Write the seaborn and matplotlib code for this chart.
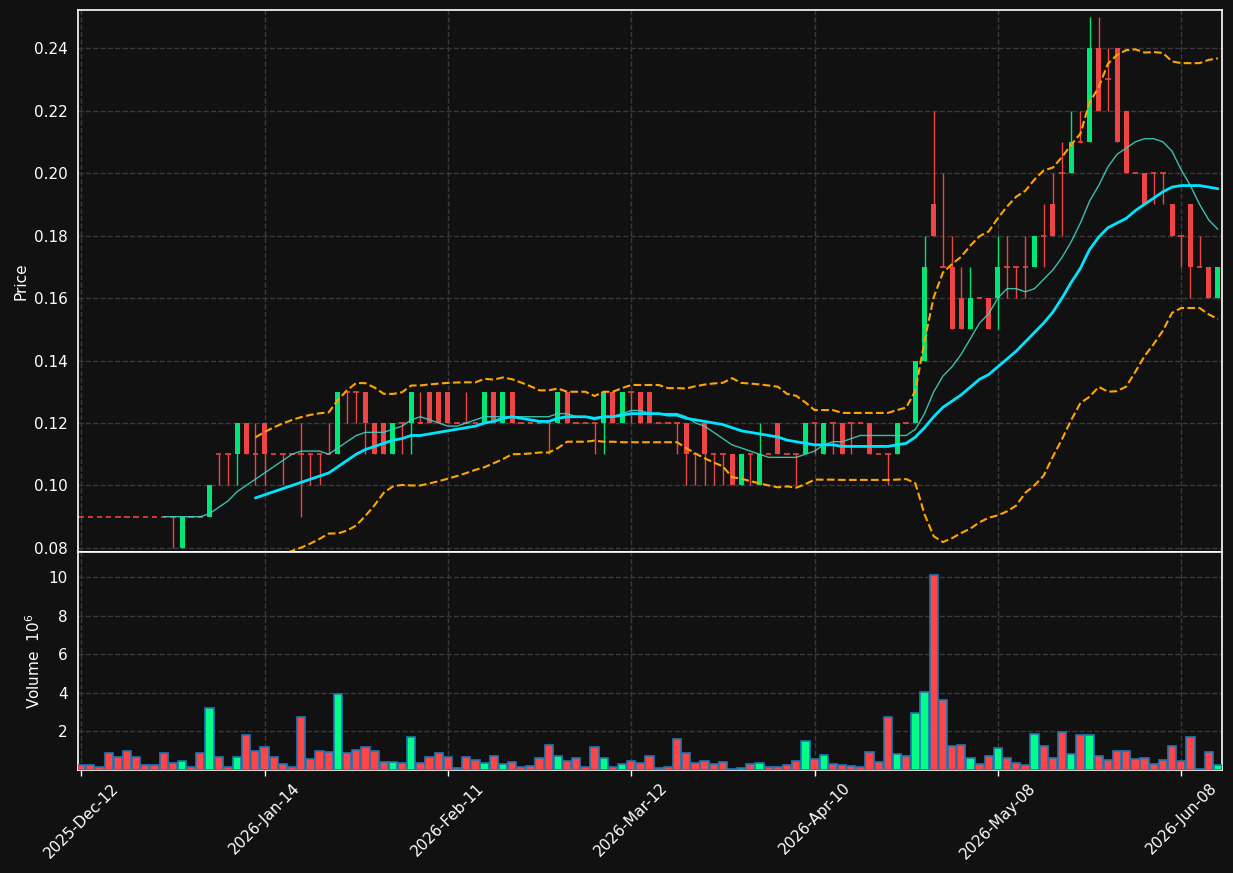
import numpy as np
import pandas as pd
import matplotlib
matplotlib.use("Agg")
import matplotlib.pyplot as plt
import seaborn as sns

# ---------------- data ----------------
opens = [0.09, 0.09, 0.09, 0.09, 0.09, 0.09, 0.09, 0.09, 0.09, 0.09,
         0.09, 0.08, 0.09, 0.09, 0.09, 0.11, 0.11, 0.11, 0.12, 0.11,
         0.12, 0.11, 0.11, 0.11, 0.11, 0.11, 0.11, 0.11, 0.11, 0.13,
         0.13, 0.13, 0.12, 0.12, 0.11, 0.12, 0.12, 0.12, 0.13, 0.13,
         0.13, 0.12, 0.12, 0.12, 0.12, 0.13, 0.12, 0.13, 0.12, 0.12,
         0.12, 0.12, 0.12, 0.13, 0.12, 0.12, 0.12, 0.12, 0.13, 0.12,
         0.13, 0.13, 0.13, 0.12, 0.12, 0.12, 0.12, 0.11, 0.12, 0.11,
         0.11, 0.11, 0.10, 0.11, 0.10, 0.11, 0.12, 0.11, 0.11, 0.11,
         0.12, 0.11, 0.12, 0.12, 0.12, 0.12, 0.12, 0.11, 0.11, 0.11,
         0.12, 0.12, 0.14, 0.19, 0.17, 0.17, 0.16, 0.15, 0.16, 0.16,
         0.16, 0.17, 0.17, 0.17, 0.17, 0.18, 0.19, 0.20, 0.20, 0.21,
         0.21, 0.24, 0.23, 0.24, 0.22, 0.20, 0.20, 0.20, 0.20, 0.19,
         0.18, 0.19, 0.17, 0.17, 0.16]
highs = [0.09, 0.09, 0.09, 0.09, 0.09, 0.09, 0.09, 0.09, 0.09, 0.09,
         0.09, 0.09, 0.09, 0.09, 0.10, 0.11, 0.11, 0.12, 0.12, 0.12,
         0.12, 0.11, 0.11, 0.11, 0.12, 0.11, 0.11, 0.12, 0.13, 0.13,
         0.13, 0.13, 0.12, 0.12, 0.12, 0.12, 0.13, 0.13, 0.13, 0.13,
         0.13, 0.12, 0.13, 0.12, 0.13, 0.13, 0.13, 0.13, 0.12, 0.12,
         0.12, 0.12, 0.13, 0.13, 0.12, 0.12, 0.12, 0.13, 0.13, 0.13,
         0.13, 0.13, 0.13, 0.12, 0.12, 0.12, 0.12, 0.11, 0.12, 0.11,
         0.11, 0.11, 0.11, 0.11, 0.12, 0.11, 0.12, 0.11, 0.11, 0.12,
         0.12, 0.12, 0.12, 0.12, 0.12, 0.12, 0.12, 0.11, 0.11, 0.12,
         0.12, 0.14, 0.18, 0.22, 0.20, 0.18, 0.17, 0.17, 0.16, 0.16,
         0.18, 0.18, 0.17, 0.18, 0.18, 0.19, 0.20, 0.21, 0.22, 0.22,
         0.25, 0.25, 0.24, 0.24, 0.22, 0.20, 0.20, 0.20, 0.20, 0.19,
         0.18, 0.19, 0.18, 0.17, 0.17]
lows = [0.09, 0.09, 0.09, 0.09, 0.09, 0.09, 0.09, 0.09, 0.09, 0.09,
        0.08, 0.08, 0.09, 0.09, 0.09, 0.10, 0.10, 0.10, 0.11, 0.10,
        0.10, 0.11, 0.10, 0.11, 0.09, 0.10, 0.10, 0.11, 0.11, 0.12,
        0.12, 0.11, 0.11, 0.11, 0.11, 0.11, 0.11, 0.12, 0.12, 0.12,
        0.12, 0.12, 0.12, 0.12, 0.12, 0.12, 0.12, 0.12, 0.12, 0.12,
        0.12, 0.11, 0.12, 0.12, 0.12, 0.12, 0.11, 0.11, 0.12, 0.12,
        0.12, 0.12, 0.12, 0.12, 0.12, 0.11, 0.10, 0.10, 0.10, 0.10,
        0.10, 0.10, 0.10, 0.10, 0.10, 0.11, 0.11, 0.11, 0.10, 0.11,
        0.11, 0.11, 0.11, 0.11, 0.11, 0.12, 0.11, 0.11, 0.10, 0.11,
        0.12, 0.12, 0.14, 0.18, 0.17, 0.15, 0.15, 0.15, 0.16, 0.15,
        0.15, 0.16, 0.16, 0.16, 0.17, 0.17, 0.18, 0.18, 0.20, 0.21,
        0.21, 0.22, 0.22, 0.21, 0.20, 0.20, 0.19, 0.19, 0.19, 0.18,
        0.17, 0.16, 0.17, 0.16, 0.16]
closes = [0.09, 0.09, 0.09, 0.09, 0.09, 0.09, 0.09, 0.09, 0.09, 0.09,
          0.09, 0.09, 0.09, 0.09, 0.10, 0.11, 0.11, 0.12, 0.11, 0.11,
          0.11, 0.11, 0.11, 0.11, 0.11, 0.11, 0.11, 0.11, 0.13, 0.13,
          0.13, 0.12, 0.11, 0.11, 0.12, 0.12, 0.13, 0.12, 0.12, 0.12,
          0.12, 0.12, 0.12, 0.12, 0.13, 0.12, 0.13, 0.12, 0.12, 0.12,
          0.12, 0.12, 0.13, 0.12, 0.12, 0.12, 0.12, 0.13, 0.12, 0.13,
          0.13, 0.12, 0.12, 0.12, 0.12, 0.12, 0.11, 0.11, 0.11, 0.11,
          0.11, 0.10, 0.11, 0.11, 0.11, 0.11, 0.11, 0.11, 0.11, 0.12,
          0.12, 0.12, 0.12, 0.11, 0.12, 0.12, 0.11, 0.11, 0.11, 0.12,
          0.12, 0.14, 0.17, 0.18, 0.17, 0.15, 0.15, 0.16, 0.16, 0.15,
          0.17, 0.17, 0.17, 0.17, 0.18, 0.18, 0.18, 0.20, 0.21, 0.21,
          0.24, 0.22, 0.23, 0.21, 0.20, 0.20, 0.19, 0.20, 0.20, 0.18,
          0.18, 0.17, 0.17, 0.16, 0.17]
volumes = [0.24, 0.24, 0.17, 0.86, 0.69, 1.01, 0.69, 0.24, 0.24, 0.86,
           0.38, 0.45, 0.14, 0.86, 3.23, 0.69, 0.17, 0.69, 1.79, 0.96,
           1.20, 0.69, 0.29, 0.17, 2.76, 0.58, 1.01, 0.91, 3.95, 0.86,
           1.06, 1.17, 0.96, 0.39, 0.39, 0.34, 1.73, 0.34, 0.65, 0.86,
           0.65, 0.09, 0.65, 0.50, 0.34, 0.70, 0.29, 0.39, 0.14, 0.19,
           0.60, 1.32, 0.70, 0.45, 0.60, 0.17, 1.17, 0.60, 0.14, 0.29,
           0.45, 0.34, 0.70, 0.09, 0.14, 1.63, 0.86, 0.34, 0.45, 0.29,
           0.39, 0.03, 0.09, 0.29, 0.34, 0.14, 0.14, 0.24, 0.45, 1.48,
           0.55, 0.76, 0.29, 0.24, 0.19, 0.14, 0.91, 0.39, 2.76, 0.81,
           0.70, 2.97, 4.05, 10.13, 3.64, 1.27, 1.32, 0.60, 0.29, 0.70,
           1.12, 0.60, 0.34, 0.24, 1.89, 1.22, 0.60, 1.99, 0.81, 1.79,
           1.79, 0.70, 0.50, 0.96, 0.96, 0.55, 0.60, 0.29, 0.50, 1.22,
           0.45, 1.73, 0.03, 0.91, 0.24]  # millions
tick_labels = ["2025-Dec-12", "2026-Jan-14", "2026-Feb-11", "2026-Mar-12",
               "2026-Apr-10", "2026-May-08", "2026-Jun-08"]
tick_step = 20

# ---------------- derived indicators ----------------
df = pd.DataFrame({"open": opens, "high": highs, "low": lows,
                   "close": closes, "volume": volumes})
df["idx"] = np.arange(len(df))
df["ma10"] = df["close"].rolling(10).mean()
df["ma20"] = df["close"].rolling(20).mean()
std20 = df["close"].rolling(20).std(ddof=0)
df["bb_up"] = df["ma20"] + 2 * std20
df["bb_lo"] = df["ma20"] - 2 * std20
up = df["close"] > df["open"]

# ---------------- style ----------------
BG = "#111111"
sns.set_theme(style="dark", rc={
    "axes.facecolor": BG, "figure.facecolor": BG, "axes.edgecolor": "white",
    "axes.labelcolor": "white", "xtick.color": "white", "ytick.color": "white",
    "text.color": "white", "grid.color": "#3a3a3a", "grid.linestyle": "--",
    "axes.grid": True, "axes.linewidth": 1.2,
})
plt.rcParams["font.family"] = ["DejaVu Sans"]

fig = plt.figure(figsize=(12.33, 8.73), dpi=100)
ax = fig.add_axes([0.06326, 0.36770, 0.92782, 0.62085])
axv = fig.add_axes([0.06326, 0.11798, 0.92782, 0.24972], sharex=ax)

C_UP, C_DN = "#00e676", "#ef4444"
V_UP, V_DN = "#00ff88", "#ff4646"

# candles
for i, r in df.iterrows():
    col = C_UP if up[i] else C_DN
    ax.vlines(r["idx"], r["low"], r["high"], color=col, lw=1.0, zorder=2)
    if r["open"] == r["close"]:
        ax.hlines(r["close"], r["idx"] - 0.3, r["idx"] + 0.3, color=col,
                  lw=1.2, zorder=2)
    else:
        lo = min(r["open"], r["close"])
        ax.bar(r["idx"], abs(r["close"] - r["open"]), bottom=lo, width=0.55,
               color=col, linewidth=0, zorder=3)

# indicators
sns.lineplot(data=df, x="idx", y="ma10", ax=ax, color="#40d0c0", lw=1.0,
             alpha=0.9, zorder=4)
sns.lineplot(data=df, x="idx", y="ma20", ax=ax, color="#00e5ff", lw=2.0,
             zorder=5)
sns.lineplot(data=df, x="idx", y="bb_up", ax=ax, color="orange", lw=1.5,
             linestyle="--", zorder=4)
sns.lineplot(data=df, x="idx", y="bb_lo", ax=ax, color="orange", lw=1.5,
             linestyle="--", zorder=4)

# volume
axv.bar(df["idx"], df["volume"], width=0.9,
        color=[V_UP if u else V_DN for u in up],
        edgecolor="#1f77b4", linewidth=1.2, zorder=3)

# axes formatting
ax.set_xlim(-0.35, len(df) - 0.55)
ax.set_ylim(0.0787, 0.2522)
ax.set_yticks(np.arange(0.08, 0.241, 0.02))
ax.set_yticklabels([f"{v:.2f}" for v in np.arange(0.08, 0.241, 0.02)])
ax.set_ylabel("Price", fontsize=11)
ax.set_xlabel("")
ax.tick_params(axis="x", labelbottom=False, length=0)
ax.tick_params(axis="y", labelsize=11, length=4, width=1)

axv.set_ylim(0, 11.3)
axv.set_yticks([2, 4, 6, 8, 10])
axv.set_ylabel("Volume  $10^{6}$", fontsize=11)
ticks = list(range(0, len(df), tick_step))
axv.set_xticks(ticks)
axv.set_xticklabels(tick_labels, rotation=45, fontsize=11)
axv.tick_params(axis="both", labelsize=11, length=4, width=1, bottom=True)
axv.set_xlabel("")

for a in (ax, axv):
    a.grid(True, color="#3a3a3a", linestyle="--", linewidth=1.0)
    for s in a.spines.values():
        s.set_color("white")
        s.set_linewidth(1.2)
    a.set_axisbelow(True)

fig.savefig("out.png", dpi=100, facecolor=BG)
